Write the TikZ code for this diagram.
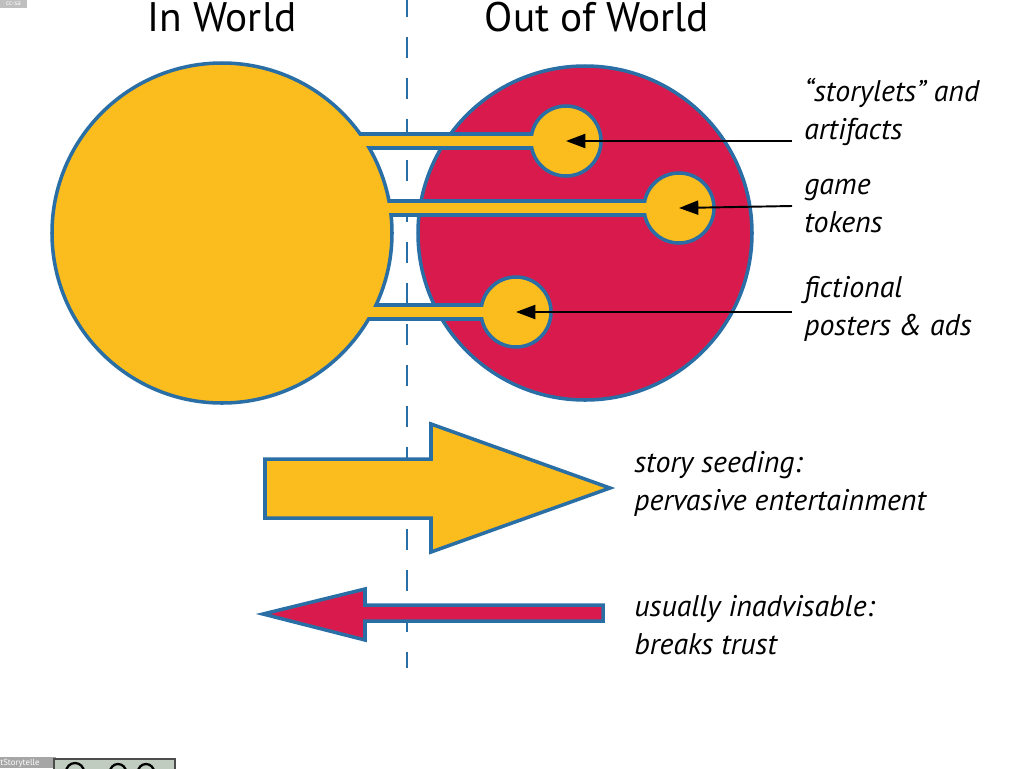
\documentclass[tikz,border=0pt]{standalone}
\usepackage{fontspec}
\setmainfont{PT Sans}
\usetikzlibrary{arrows.meta}
\definecolor{ublue}{HTML}{2A6EA6}
\definecolor{uyel}{HTML}{FBBC1E}
\definecolor{ured}{HTML}{D81B4C}
\tikzset{
  outl/.style={draw=ublue, line width=2pt},
  lbl/.style={anchor=west, align=left, font=\fontsize{17}{22}\selectfont\itshape, inner sep=0pt},
  head/.style={font=\fontsize{23.5}{28}\selectfont, inner sep=0pt},
  pointer/.style={line width=1.1pt, -{Triangle[length=11pt,width=8pt]}},
}
\begin{document}
\begin{tikzpicture}[x=0.02cm, y=-0.02cm]
\useasboundingbox (0,0) rectangle (1024,768);
% divider
\draw[ublue, line width=1.1pt, dash pattern=on 0.42cm off 0.4cm] (407,-4) -- (407,668);
% headings
\node[head, anchor=base] (inw) at (222,31) {In World};
\node[head, anchor=base] (outw) at (597,31) {Out of World};
% red circle
\fill[ured] (585,233) circle (167);
\draw[outl] (585,233) circle (167);
% bars (outlined)
\fill[uyel] (300,134) rectangle (566,148);
\draw[outl] (300,134) rectangle (566,148);
\fill[uyel] (300,201) rectangle (679,215);
\draw[outl] (300,201) rectangle (679,215);
\fill[uyel] (300,305) rectangle (516,319);
\draw[outl] (300,305) rectangle (516,319);
% small circles
\fill[uyel] (566,141) circle (35); \draw[outl] (566,141) circle (35);
\fill[uyel] (679,208) circle (35); \draw[outl] (679,208) circle (35);
\fill[uyel] (516,312) circle (35); \draw[outl] (516,312) circle (35);
% big yellow circle
\fill[uyel] (222,233) circle (170);
\draw[outl] (222,233) circle (170);
% bar interiors to merge
\fill[uyel] (300,135.9) rectangle (566,146.1);
\fill[uyel] (300,202.9) rectangle (679,213.1);
\fill[uyel] (300,306.9) rectangle (516,317.1);
% named points
\coordinate (s1) at (566,141);
\coordinate (s2) at (679,208);
\coordinate (s3) at (516,312);
\coordinate (p1) at (792,141);
\coordinate (p2) at (792,206);
\coordinate (p3) at (792,312);
\draw[pointer] (p1) -- (s1);
\draw[pointer] (p2) -- (s2);
\draw[pointer] (p3) -- (s3);
% labels
\node[lbl] (l1) at (804,112) {“storylets” and\\artifacts};
\node[lbl] (l2) at (804,206) {game\\tokens};
\node[lbl] (l3) at (804,309) {fictional\\posters \& ads};
% big arrows
\filldraw[fill=uyel, outl, line join=miter] (265,459) -- (431,459) -- (431,424) -- (610,488) -- (431,552) -- (431,518) -- (265,518) -- cycle;
\filldraw[fill=ured, outl, line join=miter] (603,605) -- (365,605) -- (365,589) -- (263,614) -- (365,640) -- (365,621) -- (603,621) -- cycle;
\node[lbl] (l4) at (634,484) {story seeding:\\pervasive entertainment};
\node[lbl] (l5) at (634,625) {usually inadvisable:\\breaks trust};
% corner marks
\fill[black!25] (0,0) rectangle (27,8);
\node[inner sep=0pt, font=\fontsize{4}{4}\selectfont, text=white] (cc) at (13.5,4) {cc-sa};
\fill[black!35] (0,757) rectangle (56,768);
\node[inner sep=0pt, font=\fontsize{5}{5}\selectfont, text=white, anchor=west] (st) at (0,763) {tStorytelle};
\filldraw[fill=green!20!black!25, draw=black!70, line width=0.6pt] (54,759) rectangle (175,770);
\draw[black, line width=1.3pt] (75,772) circle (9);
\draw[black, line width=1.3pt] (118,772) circle (8);
\draw[black, line width=1.3pt] (146,772) circle (8);
\end{tikzpicture}
\end{document}
